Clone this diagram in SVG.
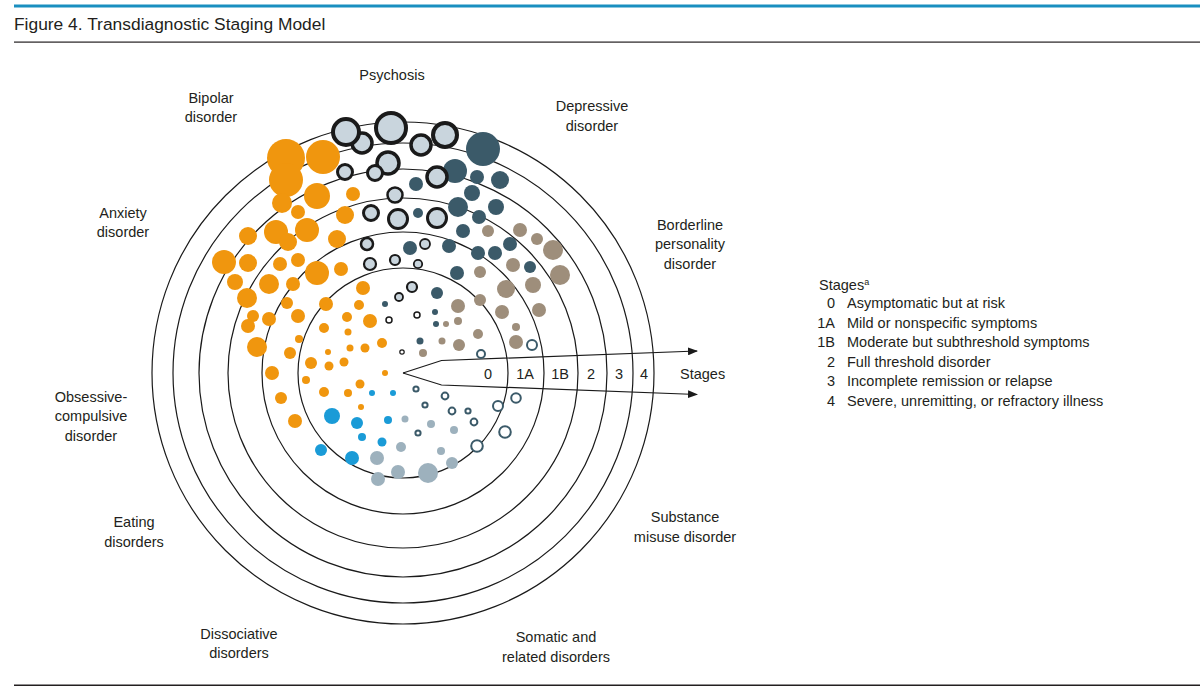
<svg xmlns="http://www.w3.org/2000/svg" width="1200" height="688" viewBox="0 0 1200 688">
<style>
text{font-family:"Liberation Sans",Arial,sans-serif;font-size:14.5px;fill:#231f20}
.lbl{text-anchor:middle}
.ring{fill:none;stroke:#1a1a1a;stroke-width:1.2}
.con{fill:none;stroke:#1a1a1a;stroke-width:1.2}
.or circle{fill:#f0960e}
.dp circle{fill:#3b5a69}
.br circle{fill:#9e8e7b}
.bl circle{fill:#1a9bd7}
.lg circle{fill:#9db1bd}
.ps circle{fill:#c9d5dd;stroke:#1a1a1a}
.su circle{fill:#fff;stroke:#3b5a69;stroke-width:2}
</style>
<defs>
<marker id="ah" markerWidth="10" markerHeight="8" refX="9" refY="4" orient="auto" markerUnits="userSpaceOnUse">
<path d="M0,0 L10,4 L0,8 Z" fill="#1a1a1a"/>
</marker>
</defs>
<rect width="1200" height="688" fill="#fff"/>
<rect x="14" y="4.5" width="1186" height="3" fill="#1a8fc0"/>
<text x="14" y="30" style="font-size:17.4px">Figure 4. Transdiagnostic Staging Model</text>
<rect x="14" y="41.5" width="1186" height="1.2" fill="#231f20"/>
<rect x="14" y="684.5" width="1186" height="1.5" fill="#231f20"/>

<g id="stage-rings">
<circle class="ring" cx="403" cy="373" r="105"/>
<circle class="ring" cx="403" cy="373" r="141"/>
<circle class="ring" cx="403" cy="373" r="175"/>
<circle class="ring" cx="403" cy="373" r="204"/>
<circle class="ring" cx="403" cy="373" r="230"/>
<circle class="ring" cx="403" cy="373" r="251"/>
</g>

<g id="connectors">
<path class="con" d="M403,373 L441.5,360.5 L697,351" marker-end="url(#ah)"/>
<path class="con" d="M403,373 L441.5,385 L697,394.5" marker-end="url(#ah)"/>
</g>

<g id="stage-axis">
<text x="488" y="379" class="lbl">0</text>
<text x="525" y="379" class="lbl">1A</text>
<text x="560" y="379" class="lbl">1B</text>
<text x="591" y="379" class="lbl">2</text>
<text x="619" y="379" class="lbl">3</text>
<text x="644" y="379" class="lbl">4</text>
<text x="680" y="379">Stages</text>
</g>

<g id="bipolar-anxiety-ocd" class="or">
<circle cx="286" cy="158" r="19"/><circle cx="323" cy="157" r="17"/><circle cx="286" cy="180" r="17"/>
<circle cx="317" cy="196" r="13"/><circle cx="282" cy="203" r="10"/><circle cx="353" cy="194" r="7"/>
<circle cx="298" cy="212" r="7"/><circle cx="345" cy="215" r="9"/><circle cx="248" cy="236" r="9"/>
<circle cx="276" cy="232" r="12"/><circle cx="288" cy="242" r="9"/><circle cx="307" cy="230" r="12"/>
<circle cx="337" cy="239" r="9"/><circle cx="224" cy="262" r="12"/><circle cx="248" cy="263" r="9"/>
<circle cx="280" cy="264" r="7"/><circle cx="298" cy="260" r="7"/><circle cx="317" cy="273" r="12"/>
<circle cx="341" cy="269" r="7"/><circle cx="235" cy="282" r="8"/><circle cx="269" cy="284" r="10"/>
<circle cx="293" cy="284" r="7"/><circle cx="363" cy="288" r="7"/><circle cx="247" cy="298" r="10"/>
<circle cx="287" cy="303" r="6"/><circle cx="326" cy="304" r="7"/><circle cx="359" cy="305" r="5"/>
<circle cx="253" cy="316" r="6"/><circle cx="248" cy="326" r="7"/><circle cx="269" cy="319" r="7"/>
<circle cx="298" cy="316" r="7"/><circle cx="347" cy="317" r="5"/><circle cx="370" cy="321" r="7"/>
<circle cx="324" cy="328" r="5"/><circle cx="348" cy="332" r="3.5"/><circle cx="299" cy="339" r="4"/>
<circle cx="382" cy="343" r="5"/><circle cx="257" cy="347" r="10"/><circle cx="290" cy="353" r="6"/>
<circle cx="328" cy="352" r="3"/><circle cx="350" cy="348" r="3.5"/><circle cx="365" cy="348" r="4.5"/>
<circle cx="311" cy="363" r="6"/><circle cx="329" cy="366" r="4.5"/><circle cx="344" cy="362" r="4.5"/>
<circle cx="385" cy="373" r="3"/><circle cx="272" cy="373" r="7"/><circle cx="306" cy="380" r="4"/>
<circle cx="360" cy="384" r="4.5"/><circle cx="324" cy="392" r="5"/><circle cx="348" cy="393" r="4"/>
<circle cx="281" cy="398" r="6"/><circle cx="361" cy="407" r="3"/><circle cx="295" cy="421" r="7"/>
</g>

<g id="depressive" class="dp">
<circle cx="483" cy="149" r="17"/><circle cx="455" cy="171" r="12"/><circle cx="416" cy="184" r="7"/>
<circle cx="477" cy="177" r="7"/><circle cx="500" cy="180" r="9"/><circle cx="472" cy="193" r="8"/>
<circle cx="458" cy="207" r="10"/><circle cx="496" cy="207" r="8"/><circle cx="418" cy="213" r="5"/>
<circle cx="479" cy="217" r="7"/><circle cx="463" cy="231" r="7"/><circle cx="410" cy="248" r="7"/>
<circle cx="449" cy="246" r="7"/><circle cx="478" cy="253" r="7"/><circle cx="495" cy="253" r="7"/>
<circle cx="510" cy="244" r="7"/><circle cx="530" cy="267" r="6"/><circle cx="457" cy="273" r="7"/>
<circle cx="437" cy="293" r="6"/><circle cx="435" cy="312" r="3"/><circle cx="436" cy="324" r="3"/>
<circle cx="420" cy="341" r="3.5"/><circle cx="385" cy="304" r="3"/>
</g>

<g id="borderline" class="br">
<circle cx="488" cy="231" r="6"/><circle cx="520" cy="230" r="7"/><circle cx="537" cy="239" r="6"/>
<circle cx="553" cy="250" r="10"/><circle cx="513" cy="265" r="7"/><circle cx="560" cy="275" r="10"/>
<circle cx="480" cy="272" r="6"/><circle cx="506" cy="289" r="9"/><circle cx="533" cy="285" r="8"/>
<circle cx="458" cy="306" r="7"/><circle cx="480" cy="300" r="6"/><circle cx="502" cy="312" r="7"/>
<circle cx="539" cy="310" r="7"/><circle cx="446" cy="324" r="3"/><circle cx="458" cy="321" r="4"/>
<circle cx="478" cy="334" r="5"/><circle cx="516" cy="327" r="4"/><circle cx="442" cy="341" r="3.5"/>
<circle cx="459" cy="345" r="6"/><circle cx="516" cy="342" r="7"/><circle cx="423" cy="353" r="4"/>
</g>

<g id="psychosis" class="ps">
<circle cx="362" cy="143" r="10" stroke-width="3.5"/><circle cx="421" cy="145" r="10" stroke-width="3.5"/>
<circle cx="346" cy="132" r="13" stroke-width="4"/><circle cx="391" cy="128" r="15" stroke-width="4"/>
<circle cx="445" cy="135" r="12" stroke-width="4"/>
<circle cx="388" cy="163" r="11" stroke-width="3.5"/><circle cx="345" cy="172" r="7.5" stroke-width="3"/>
<circle cx="375" cy="173" r="7.5" stroke-width="3"/><circle cx="437" cy="177" r="10" stroke-width="3.5"/>
<circle cx="371" cy="213" r="7.5" stroke-width="3"/><circle cx="398" cy="219" r="9.5" stroke-width="3"/>
<circle cx="437" cy="218" r="9.5" stroke-width="3"/><circle cx="395" cy="195" r="7.5" stroke-width="2.5"/>
<circle cx="367" cy="244" r="6" stroke-width="2.5"/><circle cx="370" cy="264" r="6" stroke-width="2.2"/>
<circle cx="395" cy="260" r="5" stroke-width="2.2"/><circle cx="418" cy="264" r="4.2" stroke-width="1.8"/>
<circle cx="425" cy="244" r="5" stroke-width="1.8"/>
<circle cx="412" cy="287" r="5" stroke-width="2.2"/><circle cx="399" cy="297" r="4" stroke-width="1.8"/>
<circle cx="389" cy="320" r="3" stroke-width="1.5" style="fill:#fff"/><circle cx="417" cy="315" r="3" stroke-width="1.5" style="fill:#fff"/>
<circle cx="402" cy="352" r="2.2" stroke-width="1.2" style="fill:#fff"/>
</g>

<g id="eating" class="bl">
<circle cx="372" cy="393" r="3"/><circle cx="393" cy="393" r="3"/><circle cx="332" cy="416" r="8"/>
<circle cx="357" cy="423" r="6"/><circle cx="388" cy="420" r="4"/><circle cx="362" cy="437" r="4"/>
<circle cx="382" cy="442" r="4.5"/><circle cx="321" cy="450" r="6"/><circle cx="352" cy="458" r="7"/>
</g>

<g id="dissociative-somatic" class="lg">
<circle cx="405" cy="419" r="3.5"/><circle cx="431" cy="424" r="4"/><circle cx="454" cy="430" r="4"/>
<circle cx="401" cy="447" r="5"/><circle cx="441" cy="451" r="4"/><circle cx="377" cy="458" r="7"/>
<circle cx="452" cy="463" r="6"/><circle cx="398" cy="472" r="7"/><circle cx="428" cy="473" r="10"/>
<circle cx="378" cy="479" r="7"/>
</g>

<g id="substance" class="su">
<circle cx="481" cy="354" r="4" stroke-width="1.8"/><circle cx="532" cy="345" r="5" stroke-width="2"/>
<circle cx="416" cy="389" r="2.6" stroke-width="1.3"/><circle cx="445" cy="396" r="3.4" stroke-width="1.5"/>
<circle cx="516" cy="398" r="4.8" stroke-width="2"/><circle cx="425" cy="405" r="2.6" stroke-width="1.3"/>
<circle cx="452" cy="411" r="3.4" stroke-width="1.5"/><circle cx="468" cy="411" r="2.6" stroke-width="1.3"/>
<circle cx="498" cy="406" r="5" stroke-width="2"/><circle cx="474" cy="422" r="3.4" stroke-width="1.5"/>
<circle cx="418" cy="433" r="2.6" stroke-width="1.3"/><circle cx="505" cy="432" r="5.8" stroke-width="2.5"/>
<circle cx="477" cy="446" r="5.8" stroke-width="2.5"/>
</g>

<g id="labels">
<text x="392" y="80" class="lbl">Psychosis</text>
<text x="211" y="103" class="lbl">Bipolar</text><text x="211" y="122" class="lbl">disorder</text>
<text x="592" y="111" class="lbl">Depressive</text><text x="592" y="131" class="lbl">disorder</text>
<text x="123" y="218" class="lbl">Anxiety</text><text x="123" y="237" class="lbl">disorder</text>
<text x="690" y="230" class="lbl">Borderline</text><text x="690" y="249" class="lbl">personality</text><text x="690" y="269" class="lbl">disorder</text>
<text x="91" y="402" class="lbl">Obsessive-</text><text x="91" y="421" class="lbl">compulsive</text><text x="91" y="441" class="lbl">disorder</text>
<text x="134" y="527" class="lbl">Eating</text><text x="134" y="547" class="lbl">disorders</text>
<text x="685" y="522" class="lbl">Substance</text><text x="685" y="542" class="lbl">misuse disorder</text>
<text x="239" y="639" class="lbl">Dissociative</text><text x="239" y="658" class="lbl">disorders</text>
<text x="556" y="642" class="lbl">Somatic and</text><text x="556" y="662" class="lbl">related disorders</text>
</g>

<g id="legend">
<text x="819" y="290">Stages<tspan dy="-5" style="font-size:9px">a</tspan></text>
<text x="835" y="308" text-anchor="end">0</text><text x="847" y="308">Asymptomatic but at risk</text>
<text x="835" y="327.5" text-anchor="end">1A</text><text x="847" y="327.5">Mild or nonspecific symptoms</text>
<text x="835" y="347" text-anchor="end">1B</text><text x="847" y="347">Moderate but subthreshold symptoms</text>
<text x="835" y="366.5" text-anchor="end">2</text><text x="847" y="366.5">Full threshold disorder</text>
<text x="835" y="386" text-anchor="end">3</text><text x="847" y="386">Incomplete remission or relapse</text>
<text x="835" y="405.5" text-anchor="end">4</text><text x="847" y="405.5">Severe, unremitting, or refractory illness</text>
</g>
</svg>
